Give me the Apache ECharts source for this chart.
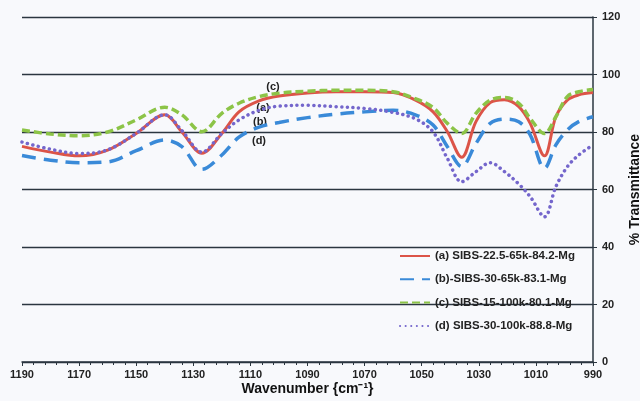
<!DOCTYPE html>
<html>
<head>
<meta charset="utf-8">
<script src="https://cdn.jsdelivr.net/npm/echarts@6/dist/echarts.min.js"></script>
<style>
  html, body { margin: 0; padding: 0; background: #f8f9fc; }
  #main { width: 640px; height: 401px; }
</style>
</head>
<body>
<div id="main"></div>
<script>
// wavenumbers (cm-1) shared by all curves
var wavenumbers = [1190, 1180, 1170, 1160, 1150, 1140, 1134, 1127, 1120, 1114, 1107, 1100, 1090, 1080, 1070,
    1060, 1052, 1046, 1041, 1036, 1031, 1026, 1021, 1016, 1012, 1007, 1003, 999, 995, 990];

// % transmittance
var seriesA = [75, 73, 71.7, 73.7, 79.5, 86, 80, 72.6, 79.5, 87, 90.8, 92.5, 93.6, 94, 94,
    93.7, 91, 87, 80.1, 71.2, 83.6, 90.2, 91.2, 88.8, 83, 71.7, 85.3, 91.1, 92.9, 93.7];
var seriesB = [71.8, 70.2, 69.3, 69.6, 73.5, 77.2, 74.9, 67, 72, 78.2, 81.7, 83.3, 85, 86.2, 87,
    87.6, 85.9, 82.4, 74.9, 68, 76, 83, 84.5, 83.6, 79, 67.4, 75.5, 80.7, 83.6, 85.3];
var seriesC = [80.7, 79.3, 78.7, 80, 84.2, 88.6, 86, 80.1, 86.5, 90, 92.3, 93.5, 94.2, 94.5, 94.5,
    94, 91.5, 88.5, 83, 79.5, 86.5, 91.1, 92, 90, 84.7, 79.5, 85.3, 92.3, 94, 94.8];
var seriesD = [76.5, 74, 72.5, 73.8, 79.5, 86, 80.5, 73, 79.5, 84.2, 87.5, 89, 89.3, 88.8, 88.2,
    86.8, 84.5, 80, 70.8, 62.7, 66.2, 69.3, 66.2, 61.9, 57.5, 50.5, 61, 67.9, 72, 75.5];

var seriesNames = ['(a) SIBS-22.5-65k-84.2-Mg', '(b)-SIBS-30-65k-83.1-Mg', '(c) SIBS-15-100k-80.1-Mg', '(d) SIBS-30-100k-88.8-Mg'];
var yTicks = [0, 20, 40, 60, 80, 100, 120];

var FONT = 'Liberation Sans';
var AXIS_COLOR = '#2b3640';
var myChart = echarts.init(document.getElementById('main'));

function pairs(vals) {
    return wavenumbers.map(function (w, i) { return [w, vals[i]]; });
}

function curve(name, vals, color, width, type, cap) {
    return {
        name: name,
        type: 'line',
        data: pairs(vals),
        smooth: 0.35,
        symbol: 'none',
        lineStyle: { color: color, width: width, type: type, cap: cap || 'butt' },
        itemStyle: { color: color }
    };
}

// little (a)..(d) labels next to the curves
var tags = [['(c)', 273, 87], ['(a)', 263, 108], ['(b)', 260, 122], ['(d)', 259, 141]];

myChart.setOption({
    backgroundColor: '#f8f9fc',
    animation: false,
    grid: { left: 22, right: 47, top: 17, bottom: 39, outerBoundsMode: 'none' },
    legend: {
        orient: 'vertical',
        left: 394,
        top: 245,
        itemWidth: 30,
        itemHeight: 14,
        itemGap: 11.3,
        data: seriesNames,
        itemStyle: { opacity: 0, color: 'transparent', borderColor: 'transparent', borderWidth: 0 },
        textStyle: { fontFamily: FONT, fontWeight: 'bold', fontSize: 11.5, color: '#222' }
    },
    xAxis: {
        type: 'value',
        inverse: true,
        min: 990,
        max: 1190,
        interval: 20,
        name: 'Wavenumber {cm\u207B\u00B9}',
        nameLocation: 'middle',
        nameGap: 20,
        nameMoveOverlap: false,
        nameTextStyle: { fontFamily: FONT, fontWeight: 'bold', fontSize: 14, color: '#111' },
        axisLine: { lineStyle: { color: AXIS_COLOR, width: 1.5 } },
        axisTick: { length: 4, lineStyle: { color: AXIS_COLOR } },
        minorTick: { show: true, splitNumber: 5, length: 3, lineStyle: { color: AXIS_COLOR } },
        axisLabel: {
            fontFamily: FONT, fontWeight: 'bold', fontSize: 11, color: '#222', margin: 7,
            formatter: function (v) { return String(v); }
        },
        splitLine: { show: false }
    },
    yAxis: {
        type: 'value',
        position: 'right',
        min: yTicks[0],
        max: yTicks[yTicks.length - 1],
        interval: 20,
        name: '% Transmittance',
        nameLocation: 'middle',
        nameRotate: 90,
        nameGap: 35,
        nameMoveOverlap: false,
        nameTextStyle: { fontFamily: FONT, fontWeight: 'bold', fontSize: 14, color: '#111' },
        axisLine: { show: true, lineStyle: { color: AXIS_COLOR, width: 1.5 } },
        axisTick: { show: true, length: 4, lineStyle: { color: AXIS_COLOR } },
        axisLabel: { fontFamily: FONT, fontWeight: 'bold', fontSize: 11, color: '#222', margin: 9 },
        splitLine: { lineStyle: { color: AXIS_COLOR, width: 1.3 } }
    },
    graphic: tags.map(function (t) {
        return {
            type: 'text',
            x: t[1],
            y: t[2],
            style: {
                text: t[0], font: 'bold 11px "Liberation Sans"', fill: '#222',
                align: 'center', verticalAlign: 'middle'
            }
        };
    }),
    series: [
        curve(seriesNames[0], seriesA, '#dc5448', 3),
        curve(seriesNames[1], seriesB, '#3a8ad8', 3.5, [14, 8]),
        curve(seriesNames[2], seriesC, '#8cc447', 3.5, [8, 4]),
        curve(seriesNames[3], seriesD, '#7466cc', 3.5, [0.1, 5.5], 'round')
    ]
});
</script>
</body>
</html>
